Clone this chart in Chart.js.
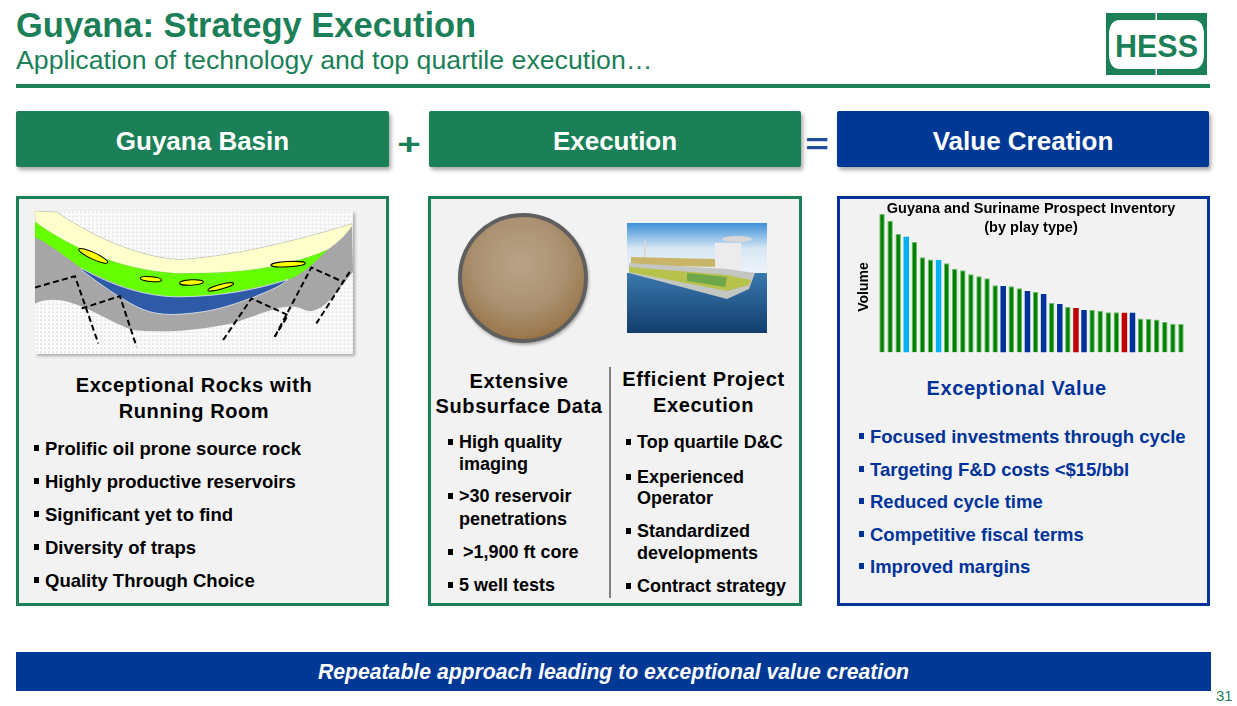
<!DOCTYPE html>
<html>
<head>
<meta charset="utf-8">
<script src="https://cdn.jsdelivr.net/npm/chart.js@4.4.0/dist/chart.umd.min.js"></script>
<style>
  body { margin: 0; width: 1237px; height: 706px; position: relative; overflow: hidden; background: #fff;
         font-family: "Liberation Sans", Arial, Helvetica, sans-serif; }
  .abs { position: absolute; white-space: nowrap; line-height: normal; }
  .hb { position: absolute; top: 111px; height: 56px; line-height: 60px; color: #fff; font-weight: bold;
        font-size: 26px; text-align: center; border-radius: 2px; box-shadow: 2px 3px 4px rgba(0,0,0,0.35); }
  .pn { position: absolute; top: 196px; height: 410px; box-sizing: border-box; border: 3px solid #1b7f57; background: #f2f2f2; }
  .ph { font-weight: bold; font-size: 20px; letter-spacing: 0.6px; text-align: center; }
  .bl { font-weight: bold; font-size: 18.5px; }
  .bm { font-weight: bold; font-size: 18px; }
  .dot::before { content: ''; position: absolute; left: -11px; top: 7px; width: 5px; height: 6px; background: currentColor; }
  .sign { position: absolute; width: 40px; height: 40px; display: flex; align-items: center; justify-content: center;
          font-weight: bold; font-size: 30px; line-height: 1; transform: scaleX(1.35); }
</style>
</head>
<body>

<!-- header -->
<div class="abs" style="left:16px;top:6px;font-size:34.5px;font-weight:bold;color:#1b7f57">Guyana: Strategy Execution</div>
<div class="abs" style="left:16px;top:45px;font-size:26.7px;color:#1b7f57">Application of technology and top quartile execution…</div>
<div style="position:absolute;left:16px;top:84px;width:1194px;height:4px;background:#1b7f57"></div>

<svg style="position:absolute;left:1106px;top:13px" width="101" height="62" viewBox="0 0 101 62">
  <rect x="0" y="0" width="101" height="62" fill="#1b7f57"/>
  <path d="M14,7 L87,7 Q97,7 98,20 L98,43 Q97,56 87,56 L14,56 Q4,56 3,43 L3,20 Q4,7 14,7 Z" fill="#fff"/>
  <rect x="49.5" y="0" width="1.5" height="7" fill="#fff"/>
  <rect x="49.5" y="56" width="1.5" height="6" fill="#fff"/>
  <text x="9" y="44" font-family="Liberation Sans, Arial, sans-serif" font-weight="bold" font-size="32" fill="#1b7f57"
        textLength="83" lengthAdjust="spacingAndGlyphs">HESS</text>
</svg>

<!-- column headers -->
<div class="hb" style="left:16px;width:373px;background:#1b7f57">Guyana Basin</div>
<div class="sign" style="left:389px;top:124px;color:#1b7f57">+</div>
<div class="hb" style="left:429px;width:372px;background:#1b7f57">Execution</div>
<div class="sign" style="left:797px;top:124px;color:#1f4e9c">=</div>
<div class="hb" style="left:837px;width:372px;background:#003896">Value Creation</div>

<!-- left panel -->
<div class="pn" style="left:16px;width:373px"></div>
<svg style="position:absolute;left:35px;top:211px;box-shadow:2px 2px 3px rgba(0,0,0,0.3)" width="318" height="143"
     viewBox="60 62 955 430" preserveAspectRatio="none">
  <defs>
    <pattern id="dots" width="12" height="12" patternUnits="userSpaceOnUse">
      <rect width="12" height="12" fill="#fbfbfb"/>
      <circle cx="6" cy="6" r="1.6" fill="#9a9a9a"/>
    </pattern>
  </defs>
  <rect x="60" y="62" width="955" height="430" fill="url(#dots)"/>
  <path d="M60,62 L125,65 C250,150 380,200 490,208 C650,200 850,150 1012,100 L1015,245
           C970,300 920,380 870,360 C820,330 750,370 650,400 C550,420 450,430 350,420 C250,380 150,300 60,340 Z" fill="#a6a6a6"/>
  <path d="M60,62 L125,65 C250,150 380,200 490,208 C650,200 850,150 1012,100 L1012,108 C990,140 960,165 940,178
           C800,240 650,250 490,250 C300,240 150,160 60,95 Z" fill="#ffffcc" stroke="#999" stroke-width="1"/>
  <path d="M60,95 C150,160 300,240 490,250 C650,250 800,240 940,178 C900,215 880,240 830,265
           C700,300 600,320 500,320 C380,320 300,280 200,235 C140,190 100,160 60,140 Z" fill="#66ff00"/>
  <path d="M200,235 C300,290 400,322 500,320 C620,318 720,300 820,268 C790,295 740,310 720,320
           C650,345 600,365 500,372 C420,378 380,360 330,330 C280,300 240,270 200,240 Z" fill="#2e5aa8" stroke="#fff" stroke-width="2"/>
  <g fill="#ffff00" stroke="#000" stroke-width="3">
    <ellipse cx="235" cy="197" rx="48" ry="10" transform="rotate(25 235 197)"/>
    <ellipse cx="408" cy="267" rx="32" ry="7" transform="rotate(5 408 267)"/>
    <ellipse cx="530" cy="277" rx="36" ry="8" transform="rotate(-3 530 277)"/>
    <ellipse cx="618" cy="290" rx="40" ry="7" transform="rotate(-15 618 290)"/>
    <ellipse cx="820" cy="222" rx="52" ry="8" transform="rotate(-3 820 222)"/>
  </g>
  <g fill="none" stroke="#000" stroke-width="6" stroke-dasharray="18 10">
    <path d="M60,292 L180,258 L250,460"/>
    <path d="M200,355 L315,318 L365,470"/>
    <path d="M625,450 L710,325 L820,375 L780,440"/>
    <path d="M780,440 L890,232 L985,275"/>
    <path d="M1005,245 L905,400"/>
  </g>
</svg>
<div class="abs ph" style="left:16px;width:356px;top:373.6px">Exceptional Rocks with</div>
<div class="abs ph" style="left:16px;width:356px;top:399.6px">Running Room</div>
<div class="abs bl dot" style="left:45px;top:438px">Prolific oil prone source rock</div>
<div class="abs bl dot" style="left:45px;top:471px">Highly productive reservoirs</div>
<div class="abs bl dot" style="left:45px;top:504px">Significant yet to find</div>
<div class="abs bl dot" style="left:45px;top:537px">Diversity of traps</div>
<div class="abs bl dot" style="left:45px;top:570px">Quality Through Choice</div>

<!-- middle panel -->
<div class="pn" style="left:428px;width:374px"></div>
<div style="position:absolute;left:458px;top:213px;width:130px;height:130px;box-sizing:border-box;border-radius:50%;
            border:4px solid #5f5f5f;box-shadow:1px 2px 3px rgba(0,0,0,0.3);
            background:radial-gradient(circle at 48% 38%, #b9a286 0%, #ab9272 45%, #9c7a50 72%, #a0621c 92%, #8a5618 100%)"></div>
<svg style="position:absolute;left:627px;top:223px" width="140" height="110" viewBox="0 0 140 110">
  <defs>
    <linearGradient id="sky" x1="0" y1="0" x2="0" y2="1">
      <stop offset="0" stop-color="#3d8fd8"/>
      <stop offset="0.5" stop-color="#d9e8f5"/>
      <stop offset="1" stop-color="#eef4fa"/>
    </linearGradient>
    <linearGradient id="sea" x1="0" y1="0" x2="0" y2="1">
      <stop offset="0" stop-color="#3a78ad"/>
      <stop offset="1" stop-color="#123e6e"/>
    </linearGradient>
  </defs>
  <rect x="0" y="0" width="140" height="52" fill="url(#sky)"/>
  <rect x="0" y="50" width="140" height="60" fill="url(#sea)"/>
  <line x1="18" y1="18" x2="18" y2="38" stroke="#d8d8d8" stroke-width="2"/>
  <polygon points="4,34 88,36 90,44 4,42" fill="#c9b56a"/>
  <rect x="88" y="20" width="26" height="28" fill="#ececec"/>
  <ellipse cx="110" cy="16" rx="15" ry="3" fill="#d8d8d8"/>
  <polygon points="2,40 100,46 128,50 122,66 100,76 2,50" fill="#c4c6c2"/>
  <polygon points="2,44 100,52 124,57 122,62 100,68 2,49" fill="#b7c24d"/>
  <polygon points="60,50 100,54 98,64 60,58" fill="#6fa84a"/>
</svg>
<div style="position:absolute;left:609px;top:367px;width:2px;height:231px;background:#808080"></div>
<div class="abs ph" style="left:429px;width:180px;top:369.6px">Extensive</div>
<div class="abs ph" style="left:429px;width:180px;top:394.6px">Subsurface Data</div>
<div class="abs ph" style="left:613.5px;width:180px;top:367.6px">Efficient Project</div>
<div class="abs ph" style="left:613.5px;width:180px;top:393.6px">Execution</div>

<div class="abs bm dot" style="left:459px;top:432.4px">High quality</div>
<div class="abs bm" style="left:459px;top:454.4px">imaging</div>
<div class="abs bm dot" style="left:459px;top:486.4px">&gt;30 reservoir</div>
<div class="abs bm" style="left:459px;top:509.4px">penetrations</div>
<div class="abs bm" style="left:463px;top:542.4px"><span style="position:absolute;left:-15px;top:7px;width:5px;height:6px;background:#000"></span>&gt;1,900 ft core</div>
<div class="abs bm dot" style="left:459px;top:575.4px">5 well tests</div>

<div class="abs bm dot" style="left:637px;top:432.4px">Top quartile D&amp;C</div>
<div class="abs bm dot" style="left:637px;top:467.4px">Experienced</div>
<div class="abs bm" style="left:637px;top:488.4px">Operator</div>
<div class="abs bm dot" style="left:637px;top:521.4px">Standardized</div>
<div class="abs bm" style="left:637px;top:543.4px">developments</div>
<div class="abs bm dot" style="left:637px;top:576.4px">Contract strategy</div>

<!-- right panel -->
<div class="pn" style="left:837px;width:373px;border-color:#003399"></div>
<div style="position:absolute;left:850px;top:198px;width:345px;height:160px">
  <canvas id="inventory"></canvas>
</div>
<div class="abs ph" style="left:926.5px;width:180px;top:376.6px;color:#003399">Exceptional Value</div>
<div class="abs bl dot" style="left:870px;top:426px;color:#003399">Focused investments through cycle</div>
<div class="abs bl dot" style="left:870px;top:459px;color:#003399">Targeting F&amp;D costs &lt;$15/bbl</div>
<div class="abs bl dot" style="left:870px;top:491px;color:#003399">Reduced cycle time</div>
<div class="abs bl dot" style="left:870px;top:524px;color:#003399">Competitive fiscal terms</div>
<div class="abs bl dot" style="left:870px;top:556px;color:#003399">Improved margins</div>

<!-- footer -->
<div style="position:absolute;left:16px;top:652px;width:1195px;height:39px;line-height:39px;background:#003896;color:#fff;
            text-align:center;font-weight:bold;font-style:italic;font-size:21.2px">Repeatable approach leading to exceptional value creation</div>
<div class="abs" style="left:1216px;top:687px;font-size:15px;color:#1b7f57">31</div>

<script>
// Prospect inventory, sorted by size (tallest = 100)
const prospectIds = ['1', '2', '3', '4', '5', '6', '7', '8', '9', '10',
                     '11', '12', '13', '14', '15', '16', '17', '18', '19', '20',
                     '21', '22', '23', '24', '25', '26', '27', '28', '29', '30',
                     '31', '32', '33', '34', '35', '36', '37', '38'];
const volumes = [100, 95.2, 85.5, 83.6, 79.7, 68.8, 67.1, 66.7, 64.5, 60.4,
                 59.4, 56.5, 55.1, 53.6, 48.6, 48.1, 47.8, 46.4, 44.4, 43.7,
                 42.3, 35.7, 35.0, 32.9, 32.1, 30.7, 30.7, 30.2, 29.0, 29.0,
                 28.7, 28.7, 24.6, 24.2, 23.9, 22.0, 20.8, 20.5];
const playTypes = ['A', 'A', 'A', 'B', 'A', 'A', 'A', 'B',
                   'A', 'A', 'A', 'A', 'A', 'A', 'A', 'C',
                   'A', 'A', 'C', 'A', 'C', 'A', 'C', 'A',
                   'D', 'C', 'A', 'A', 'A', 'A', 'D', 'C',
                   'A', 'A', 'A', 'A', 'A', 'A'];
const playColors = { A: '#008000', B: '#00B0F0', C: '#003399', D: '#C00000' };
const chartTitle = ['Guyana and Suriname Prospect Inventory', '(by play type)'];
const axisLabel = 'Volume';

// title + rotated axis label drawn over the plot (the slide lets them overlap the bars)
const panelText = {
    id: 'panelText',
    afterDraw(chart) {
        const ctx = chart.ctx;
        ctx.save();
        ctx.fillStyle = '#000';
        ctx.textAlign = 'center';
        ctx.textBaseline = 'alphabetic';
        ctx.font = 'bold 14.5px "Liberation Sans", Arial, sans-serif';
        ctx.fillText(chartTitle[0], 181, 15.3);
        ctx.fillText(chartTitle[1], 181, 33.5);
        ctx.translate(14, 89);
        ctx.rotate(-Math.PI / 2);
        ctx.textBaseline = 'middle';
        ctx.font = 'bold 14px "Liberation Sans", Arial, sans-serif';
        ctx.fillText(axisLabel, 0, 0);
        ctx.restore();
    }
};

new Chart(document.getElementById('inventory'), {
    type: 'bar',
    data: {
        labels: prospectIds,
        datasets: [{
            data: volumes,
            backgroundColor: playTypes.map(p => playColors[p]),
            // green bars carry a soft light edge on the slide
            borderColor: playTypes.map(p => p === 'A' ? '#6cc06c' : playColors[p]),
            borderWidth: playTypes.map(p => p === 'A' ? 1 : 0),
            barPercentage: 0.68,
            categoryPercentage: 1.0,
        }],
    },
    options: {
        responsive: true,
        maintainAspectRatio: false,
        animation: false,
        layout: { padding: { left: 28, right: 10, top: 16, bottom: 5.5 } },
        plugins: { legend: { display: false }, tooltip: { enabled: false } },
        scales: {
            x: { display: false },
            y: { display: false, min: 0, max: 100 },
        },
    },
    plugins: [panelText],
});
</script>
</body>
</html>
